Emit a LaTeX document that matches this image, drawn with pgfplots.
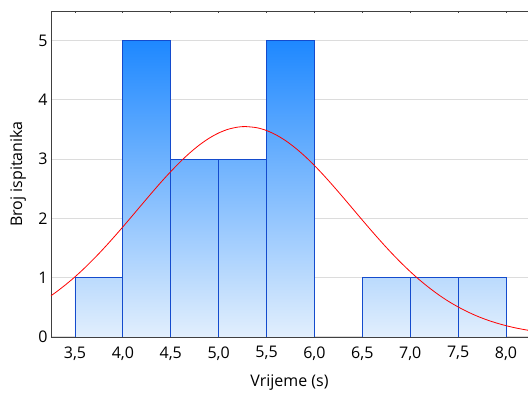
\documentclass[border=0pt]{standalone}
\usepackage{fontspec}
\setmainfont{Open Sans}
\usepackage{pgfplots}
\pgfplotsset{compat=1.18}
\definecolor{hi}{RGB}{30,136,255}
\definecolor{lo}{RGB}{226,239,253}
\definecolor{edge}{RGB}{20,75,205}
\definecolor{gridc}{RGB}{220,220,220}
\begin{document}
\begin{tikzpicture}
\begin{axis}[
  scale only axis, width=477pt, height=326pt,
  xmin=3.2495, xmax=8.2296, ymin=0, ymax=5.5,
  axis y line*=left,
  axis line style={black!75, line width=0.9pt},
  xtick={3.5,4.0,4.5,5.0,5.5,6.0,6.5,7.0,7.5,8.0},
  ytick={0,1,2,3,4,5},
  xtick pos=right, xticklabel pos=left,
  tick align=inside,
  major tick length=2.5pt,
  ytick style={draw=none},
  xtick style={black!75, line width=0.8pt},
  ymajorgrids, grid style={gridc, line width=1pt},
  /pgf/number format/assume math mode=true,
  xticklabel style={yshift=-6pt, /pgf/number format/.cd, use comma, fixed, fixed zerofill, precision=1},
  tick label style={font=\fontsize{16}{19}\selectfont},
  label style={font=\fontsize{16}{19}\selectfont},
  xlabel={Vrijeme (s)}, ylabel={Broj ispitanika},
  xlabel style={at={(axis description cs:0.5,0)}, anchor=center, yshift=-46pt},
  ylabel style={at={(axis description cs:-0.069,0.5)}, anchor=center},
  clip=true,
]
\coordinate (ll) at (rel axis cs:0,0);
\coordinate (ur) at (rel axis cs:1,1);
\pgfplotsset{mybar/.style={ybar, bar width=0.5, bar shift=0pt, draw=edge, line width=0.9pt, bottom color=lo}}
\addplot[mybar, top color=hi!20!lo] coordinates {(3.75,1)};
\addplot[mybar, top color=hi!100!lo] coordinates {(4.25,5)};
\addplot[mybar, top color=hi!60!lo] coordinates {(4.75,3)};
\addplot[mybar, top color=hi!60!lo] coordinates {(5.25,3)};
\addplot[mybar, top color=hi!100!lo] coordinates {(5.75,5)};
\addplot[mybar, top color=hi!20!lo] coordinates {(6.75,1)};
\addplot[mybar, top color=hi!20!lo] coordinates {(7.25,1)};
\addplot[mybar, top color=hi!20!lo] coordinates {(7.75,1)};
\addplot[red, line width=0.8pt, smooth] coordinates {
(3.25,0.697) (3.3,0.754) (3.4,0.879) (3.5,1.015) (3.6,1.164) (3.7,1.324)
(3.8,1.494) (3.9,1.673) (4.0,1.858) (4.1,2.048) (4.2,2.239) (4.3,2.429)
(4.4,2.615) (4.5,2.791) (4.6,2.957) (4.7,3.108) (4.8,3.241) (4.9,3.353)
(5.0,3.442) (5.1,3.505) (5.2,3.541) (5.28,3.550) (5.4,3.530) (5.5,3.483)
(5.6,3.409) (5.7,3.311) (5.8,3.190) (5.9,3.050) (6.0,2.893) (6.1,2.722)
(6.2,2.541) (6.3,2.354) (6.4,2.163) (6.5,1.972) (6.6,1.784) (6.7,1.601)
(6.8,1.425) (6.9,1.259) (7.0,1.103) (7.1,0.959) (7.2,0.828) (7.3,0.708)
(7.4,0.601) (7.5,0.507) (7.6,0.424) (7.7,0.351) (7.8,0.289) (7.9,0.236)
(8.0,0.191) (8.1,0.153) (8.2,0.122) (8.23,0.114)};
\end{axis}
\pgfresetboundingbox
\path ([shift={(-51pt,-56pt)}]ll) rectangle ([shift={(0pt,11pt)}]ur);
\end{tikzpicture}
\end{document}
